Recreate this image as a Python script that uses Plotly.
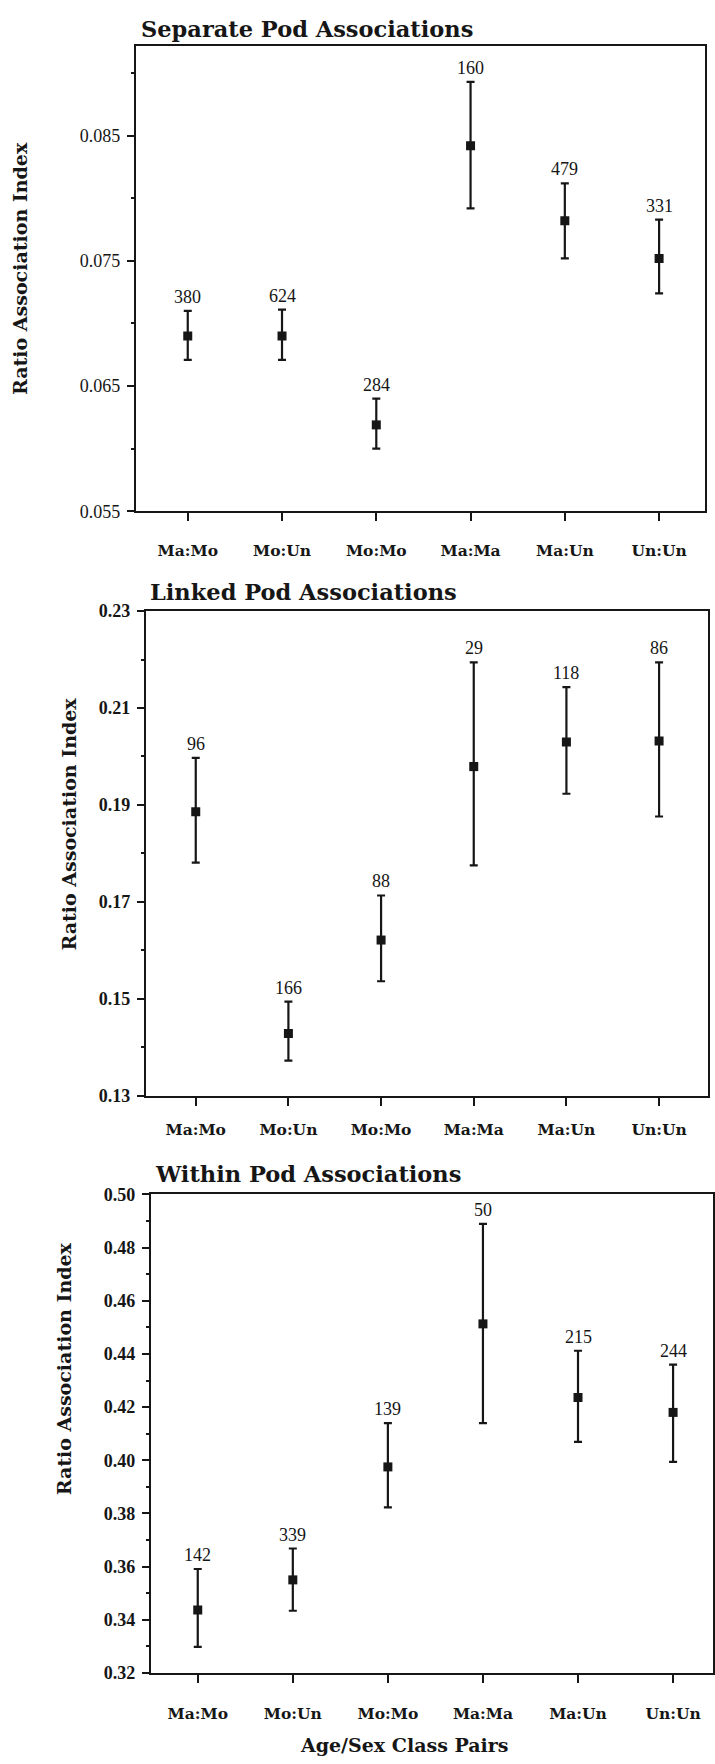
import plotly.graph_objects as go

W, H = 715, 1764

categories = ["Ma:Mo", "Mo:Un", "Mo:Mo", "Ma:Ma", "Ma:Un", "Un:Un"]

# Separate pod associations: mean, upper and lower interval limits, sample sizes
sep_mean = [0.0690, 0.0690, 0.0619, 0.0842, 0.0782, 0.0752]
sep_upper = [0.0710, 0.0711, 0.0640, 0.0893, 0.0812, 0.0783]
sep_lower = [0.0671, 0.0671, 0.0600, 0.0792, 0.0752, 0.0724]
sep_n = [380, 624, 284, 160, 479, 331]

# Linked pod associations
linked_mean = [0.1886, 0.1428, 0.1621, 0.1979, 0.2030, 0.2032]
linked_upper = [0.1997, 0.1494, 0.1713, 0.2194, 0.2143, 0.2194]
linked_lower = [0.1781, 0.1372, 0.1536, 0.1775, 0.1923, 0.1876]
linked_n = [96, 166, 88, 29, 118, 86]

# Within pod associations
within_mean = [0.3437, 0.3550, 0.3975, 0.4513, 0.4236, 0.4180]
within_upper = [0.3591, 0.3668, 0.4140, 0.4889, 0.4412, 0.4360]
within_lower = [0.3298, 0.3434, 0.3823, 0.4140, 0.4069, 0.3994]
within_n = [142, 339, 139, 50, 215, 244]

INK = "#161616"
SERIF_BOLD = "DejaVu Serif"
NUM_FONT = "Liberation Serif"

panels = [
    dict(title="Separate Pod Associations", mean=sep_mean, upper=sep_upper,
         lower=sep_lower, n=sep_n,
         box=(136, 706, 36, 507), xr=(-0.551, 5.487), yr=(0.055, 0.0922),
         tick0=0.055, dtick=0.01, minor=0.005, fmt=".3f", tickweight="normal",
         title_xy=(139, 34), ylab_xy=(20, 261), label_standoff=16),
    dict(title="Linked Pod Associations", mean=linked_mean, upper=linked_upper,
         lower=linked_lower, n=linked_n,
         box=(146, 709, 608, 1098), xr=(-0.539, 5.528), yr=(0.13, 0.23),
         tick0=0.13, dtick=0.02, minor=0.01, fmt=".2f", tickweight="bold",
         title_xy=(148, 604), ylab_xy=(69, 823), label_standoff=11),
    dict(title="Within Pod Associations", mean=within_mean, upper=within_upper,
         lower=within_lower, n=within_n,
         box=(151, 714, 1198, 1682), xr=(-0.494, 5.42), yr=(0.32, 0.50),
         tick0=0.32, dtick=0.02, minor=0.01, fmt=".2f", tickweight="bold",
         title_xy=(153, 1193), ylab_xy=(65, 1374), label_standoff=17),
]

fig = go.Figure()
annotations = []
xs = list(range(len(categories)))

for i, p in enumerate(panels, start=1):
    sfx = "" if i == 1 else str(i)
    err_plus = [u - m for u, m in zip(p["upper"], p["mean"])]
    err_minus = [m - l for m, l in zip(p["mean"], p["lower"])]
    fig.add_trace(go.Scatter(
        x=xs, y=p["mean"], mode="markers",
        xaxis="x" + sfx, yaxis="y" + sfx,
        marker=dict(symbol="square", size=9, color=INK),
        error_y=dict(type="data", symmetric=False, array=err_plus,
                     arrayminus=err_minus, color=INK, thickness=2.2, width=4),
        showlegend=False, hoverinfo="skip",
    ))

    left, right, top, bottom = p["box"]
    fig.layout["xaxis" + sfx] = dict(
        domain=[left / W, right / W], range=list(p["xr"]),
        anchor="y" + sfx, tickmode="array", tickvals=xs, ticktext=categories,
        showline=True, linecolor=INK, linewidth=2, mirror=True,
        ticks="outside", ticklen=8, tickwidth=1.5, tickcolor=INK,
        ticklabelstandoff=p["label_standoff"],
        tickfont=dict(family=SERIF_BOLD, size=15.5, color=INK, weight="bold"),
        showgrid=False, zeroline=False, fixedrange=True,
    )
    fig.layout["yaxis" + sfx] = dict(
        domain=[1 - bottom / H, 1 - top / H], range=list(p["yr"]),
        anchor="x" + sfx, tick0=p["tick0"], dtick=p["dtick"],
        tickformat=p["fmt"],
        showline=True, linecolor=INK, linewidth=2, mirror=True,
        ticks="outside", ticklen=7, tickwidth=1.5, tickcolor=INK,
        minor=dict(dtick=p["minor"], tick0=p["tick0"], ticks="outside",
                   ticklen=3, tickwidth=1.5, tickcolor=INK),
        ticklabelstandoff=3,
        tickfont=dict(family=NUM_FONT, size=18, color=INK,
                      weight=p["tickweight"]),
        showgrid=False, zeroline=False, fixedrange=True,
    )

    # panel heading
    tx, ty = p["title_xy"]
    annotations.append(dict(
        text=p["title"], xref="paper", yref="paper", x=tx / W, y=1 - ty / H,
        xanchor="left", yanchor="bottom", showarrow=False,
        font=dict(family=SERIF_BOLD, size=22.5, color=INK, weight="bold"),
    ))
    # vertical axis title
    lx, ly = p["ylab_xy"]
    annotations.append(dict(
        text="Ratio Association Index", xref="paper", yref="paper",
        x=lx / W, y=1 - ly / H, xanchor="center", yanchor="middle",
        textangle=-90, showarrow=False,
        font=dict(family=SERIF_BOLD, size=19, color=INK, weight="bold"),
    ))
    # sample sizes above each interval
    for xi, up, n in zip(xs, p["upper"], p["n"]):
        annotations.append(dict(
            text=str(n), xref="x" + sfx, yref="y" + sfx, x=xi, y=up,
            xanchor="center", yanchor="bottom", yshift=2, showarrow=False,
            font=dict(family=NUM_FONT, size=18, color=INK),
        ))

annotations.append(dict(
    text="Age/Sex Class Pairs", xref="paper", yref="paper",
    x=405 / W, y=1 - 1755 / H, xanchor="center", yanchor="middle",
    showarrow=False,
    font=dict(family=SERIF_BOLD, size=19, color=INK, weight="bold"),
))

fig.update_layout(
    width=W, height=H, margin=dict(l=0, r=0, t=0, b=0),
    paper_bgcolor="white", plot_bgcolor="white",
    annotations=annotations, showlegend=False,
)

fig.write_html("out.html", config={"displayModeBar": False})
